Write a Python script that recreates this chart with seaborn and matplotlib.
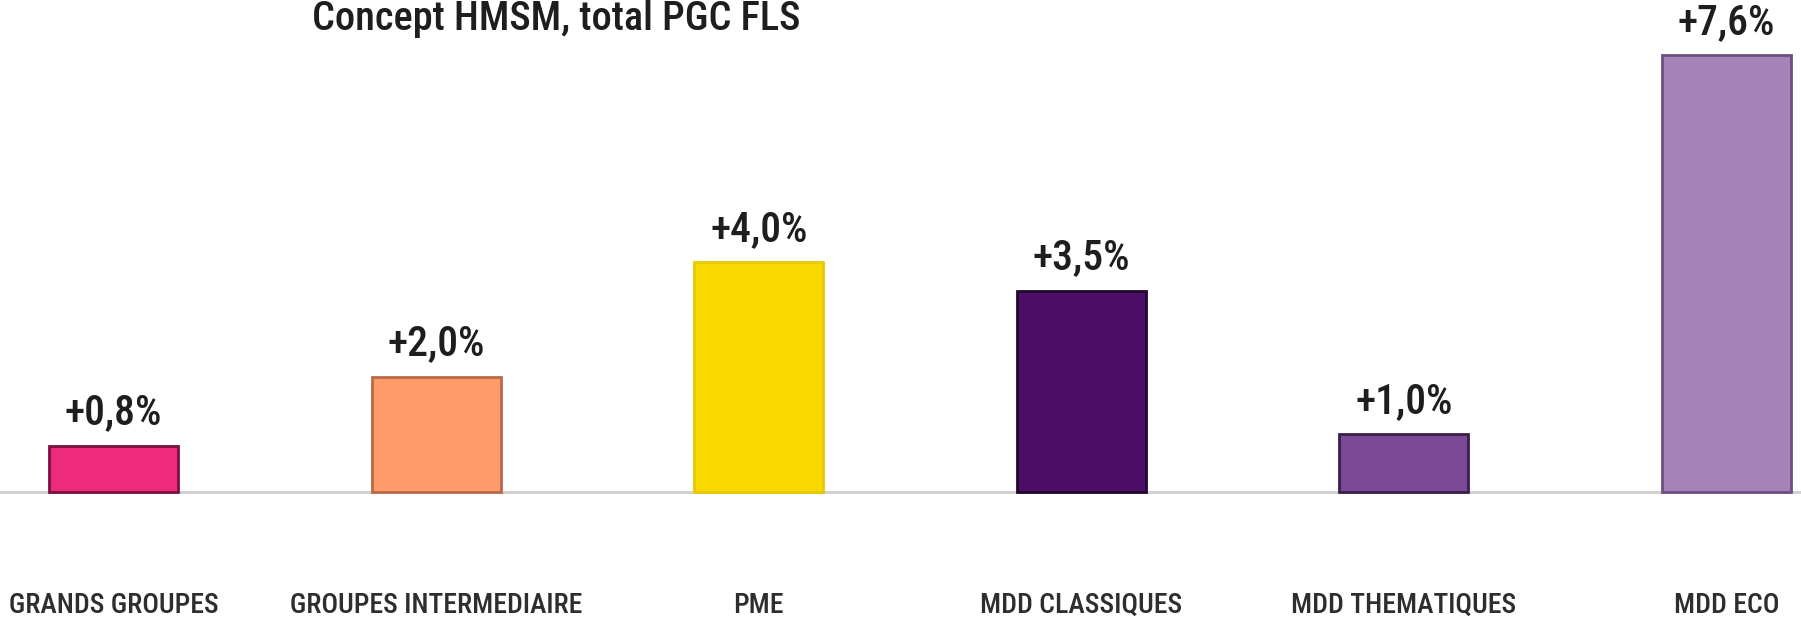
import seaborn as sns
from matplotlib import pyplot as plt
import pandas as pd

categories = ['GRANDS GROUPES', 'GROUPES INTERMEDIAIRE', 'PME',
              'MDD CLASSIQUES', 'MDD THEMATIQUES', 'MDD ECO']
values = [0.8, 2.0, 4.0, 3.5, 1.0, 7.6]
value_labels = ['+0,8%', '+2,0%', '+4,0%', '+3,5%', '+1,0%', '+7,6%']
colors = ['#EE2A7B', '#FF9A6A', '#F9D800', '#4C0E66', '#7A4A97', '#A783B7']
edges = ['#7A1040', '#B86A48', '#E8C800', '#22062E', '#3A1F4A', '#6E4E80']
title = 'Concept HMSM, total PGC FLS'

df = pd.DataFrame({'cat': categories, 'val': values})

sns.set_style('white')
plt.rcParams['font.family'] = ['Roboto Condensed', 'Liberation Sans Narrow', 'DejaVu Sans']

fig = plt.figure(figsize=(18.01, 6.22), dpi=100)
ax = fig.add_axes([0, 0, 1, 1])
sns.barplot(x='cat', y='val', hue='cat', data=df, palette=colors,
            width=0.4, saturation=1, legend=False, ax=ax)
for patch, ec in zip(ax.patches, edges):
    patch.set_edgecolor(ec)
    patch.set_linewidth(2)

ax.set_xlim(-0.352, 5.231)
ax.set_ylim(-2.27, 8.56)
ax.axhline(0, color='#CFCFCF', lw=2, zorder=0)

for i, (v, lab) in enumerate(zip(values, value_labels)):
    ax.text(i, v + 0.37, lab, ha='center', va='baseline', fontsize=30,
            fontweight='medium', color='#1E1E1E')
for i, cat in enumerate(categories):
    ax.text(i, -1.98, cat, ha='center', va='center', fontsize=20,
            fontweight='medium', color='#2E2E2E')

# title sits at the very top, as in the source image
ax.text(0.309, 0.951, title, transform=ax.transAxes, ha='center', va='baseline',
        fontsize=29, fontweight='medium', color='#1E1E1E')

ax.set_xticks([])
ax.set_yticks([])
ax.set_xlabel('')
ax.set_ylabel('')
sns.despine(left=True, bottom=True)

plt.savefig('out.png', dpi=100)
